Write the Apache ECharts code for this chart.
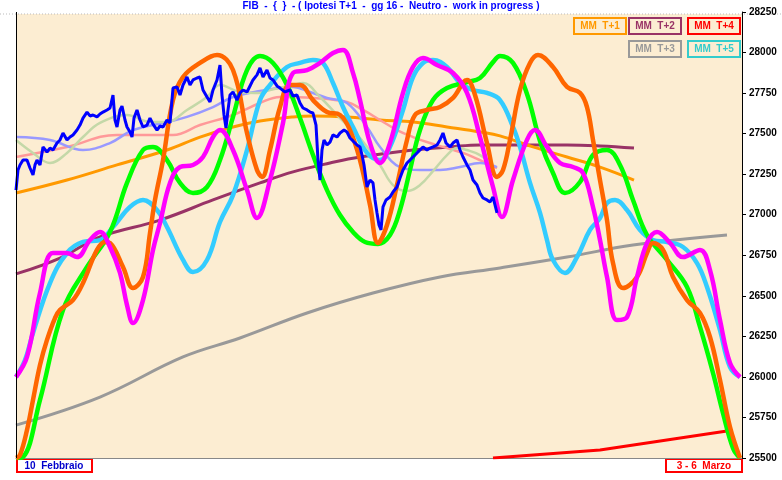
<!DOCTYPE html>
<html><head><meta charset="utf-8">
<script src="https://cdn.jsdelivr.net/npm/echarts@6/dist/echarts.min.js"></script>
<style>html,body{margin:0;padding:0;background:#fff}#c{width:782px;height:480px}</style>
</head><body><div id="c"></div>
<script>
const title = 'FIB  -  {  }  - ( Ipotesi T+1  -  gg 16 -  Neutro -  work in progress )';
const startLabel = '10  Febbraio';
const endLabel = '3 - 6  Marzo';
const yMin = 25500, yMax = 28250, yStep = 250;
const xMax = 726;

// price (blue)
const price = [[0,27152],[2,27276],[4,27307],[7,27337],[11,27337],[14,27288],[17,27245],[19,27307],[21,27337],[24,27307],[27,27418],[31,27387],[34,27411],[37,27399],[41,27442],[44,27461],[47,27504],[51,27461],[54,27479],[57,27492],[61,27522],[64,27553],[67,27596],[71,27633],[74,27609],[77,27615],[81,27603],[84,27621],[87,27633],[91,27646],[94,27658],[97,27738],[99,27584],[101,27541],[104,27646],[106,27670],[109,27584],[111,27541],[114,27510],[116,27479],[118,27596],[121,27646],[124,27584],[127,27541],[131,27553],[134,27596],[137,27559],[141,27522],[144,27547],[147,27541],[151,27584],[154,27566],[157,27781],[161,27788],[164,27738],[167,27800],[171,27849],[174,27800],[177,27831],[181,27843],[184,27849],[187,27769],[191,27726],[194,27695],[197,27769],[201,27831],[204,27923],[206,27738],[208,27615],[210,27535],[212,27646],[214,27738],[217,27757],[221,27707],[224,27751],[227,27769],[231,27757],[234,27794],[237,27831],[241,27862],[244,27905],[247,27849],[251,27892],[254,27843],[257,27831],[261,27794],[264,27781],[269,27757],[274,27769],[277,27732],[281,27738],[284,27689],[287,27658],[291,27646],[294,27633],[297,27627],[300,27553],[302,27337],[304,27214],[306,27399],[308,27461],[311,27430],[314,27448],[317,27492],[321,27479],[324,27504],[328,27522],[331,27510],[334,27473],[337,27455],[341,27430],[344,27418],[346,27368],[348,27307],[351,27171],[354,27214],[357,27196],[359,27091],[361,27011],[363,26937],[365,26906],[367,27048],[370,27091],[374,27109],[377,27140],[381,27171],[384,27226],[387,27276],[391,27319],[394,27337],[397,27356],[401,27381],[404,27399],[407,27418],[411,27399],[414,27411],[417,27418],[421,27430],[424,27461],[427,27504],[430,27442],[434,27418],[437,27442],[441,27461],[444,27399],[447,27356],[451,27307],[454,27276],[457,27214],[461,27183],[464,27134],[467,27103],[471,27091],[474,27078],[477,27109],[479,27060],[481,27011]];

// moving averages
const maLightGreen = [[0,27461],[17,27381],[34,27319],[51,27381],[67,27479],[84,27566],[111,27615],[134,27572],[151,27572],[171,27646],[191,27726],[204,27800],[224,27757],[244,27751],[254,27769],[277,27800],[287,27812],[304,27726],[324,27596],[344,27473],[364,27307],[377,27183],[391,27146],[404,27183],[417,27269],[431,27368],[441,27411],[451,27399],[464,27368],[477,27307]];
const maLavender = [[0,27479],[34,27461],[67,27399],[94,27442],[117,27522],[151,27572],[171,27603],[197,27664],[217,27726],[244,27763],[277,27788],[294,27757],[311,27720],[331,27689],[351,27541],[364,27418],[384,27294],[404,27276],[424,27276],[444,27294],[464,27319],[481,27294]];
const maPink = [[0,27356],[51,27418],[101,27492],[157,27492],[184,27553],[217,27615],[244,27689],[264,27726],[297,27720],[331,27695],[347,27646],[364,27584],[381,27522],[397,27479],[414,27442],[431,27411],[447,27381],[464,27337],[481,27288]];
const mmT1 = [[0,27134],[51,27214],[101,27307],[151,27399],[184,27479],[217,27541],[244,27578],[277,27603],[297,27609],[331,27603],[364,27584],[397,27572],[431,27541],[464,27510],[484,27486],[517,27418],[551,27356],[584,27294],[618,27214]];
const mmT2 = [[0,26635],[44,26733],[84,26863],[144,26967],[197,27091],[244,27196],[277,27264],[314,27319],[344,27356],[397,27399],[434,27418],[464,27430],[504,27430],[551,27430],[584,27424],[618,27411]];
const mmT3 = [[0,25703],[84,25876],[167,26123],[224,26240],[291,26394],[357,26517],[424,26616],[484,26672],[551,26739],[617,26813],[711,26875]];
const mmT4 = [[477,25500],[584,25549],[711,25666]];

// projection curves
const projGreen = [[0,25500],[7,25506],[24,25858],[47,26413],[71,26678],[94,26893],[111,27196],[127,27399],[137,27418],[151,27337],[164,27196],[177,27134],[191,27171],[204,27337],[217,27603],[231,27892],[244,27979],[257,27936],[271,27800],[284,27596],[297,27368],[311,27152],[324,26998],[337,26893],[349,26832],[362,26820],[374,26875],[384,27029],[394,27276],[404,27522],[417,27707],[431,27781],[451,27818],[464,27843],[477,27941],[484,27979],[497,27936],[511,27745],[524,27455],[537,27257],[549,27134],[564,27202],[577,27368],[591,27399],[604,27307],[617,27091],[631,26875],[651,26721],[671,26554],[684,26308],[697,26024],[707,25777],[717,25561],[724,25500]];
const projOrange = [[0,25500],[4,25518],[11,25672],[17,25858],[24,26074],[31,26228],[39,26363],[44,26413],[57,26474],[67,26579],[81,26783],[89,26832],[94,26826],[107,26678],[117,26548],[127,26616],[134,26887],[139,27091],[147,27337],[157,27707],[167,27849],[184,27936],[201,27985],[217,27892],[231,27504],[241,27276],[246,27233],[254,27399],[264,27664],[274,27800],[284,27800],[297,27707],[311,27633],[324,27615],[334,27522],[344,27337],[354,27060],[362,26826],[371,26937],[381,27183],[391,27461],[399,27615],[411,27646],[424,27664],[437,27720],[451,27831],[459,27738],[471,27442],[481,27233],[487,27276],[494,27461],[504,27769],[514,27936],[522,27985],[537,27911],[551,27788],[564,27751],[571,27664],[577,27461],[584,27214],[591,26967],[597,26702],[607,26548],[621,26616],[631,26764],[637,26826],[647,26783],[657,26616],[671,26474],[684,26394],[694,26246],[704,25981],[714,25691],[724,25500]];
const projMagenta = [[0,25999],[11,26123],[24,26517],[37,26764],[51,26764],[61,26739],[74,26844],[84,26893],[94,26801],[104,26641],[111,26443],[117,26332],[127,26474],[137,26783],[144,26949],[154,27196],[164,27294],[177,27307],[187,27356],[197,27479],[204,27522],[217,27399],[231,27152],[241,26980],[254,27214],[267,27566],[277,27874],[291,27892],[304,27936],[317,27997],[327,28016],[337,27874],[344,27707],[354,27442],[364,27319],[374,27442],[387,27751],[397,27911],[407,27966],[421,27923],[437,27874],[451,27751],[464,27479],[477,27171],[486,26986],[497,27214],[511,27461],[519,27522],[531,27418],[544,27319],[557,27294],[567,27257],[577,27048],[584,26844],[591,26616],[601,26351],[611,26369],[621,26616],[631,26826],[641,26893],[654,26826],[667,26739],[684,26783],[694,26659],[704,26351],[714,26086],[724,25999]];
const projCyan = [[0,25999],[9,26104],[17,26271],[34,26579],[51,26764],[67,26832],[84,26844],[97,26924],[114,27048],[127,27091],[141,27029],[151,26924],[167,26721],[177,26647],[191,26721],[204,26955],[217,27121],[231,27399],[244,27707],[254,27800],[271,27911],[284,27936],[297,27954],[307,27936],[317,27812],[327,27664],[337,27541],[351,27381],[364,27337],[374,27418],[387,27646],[397,27849],[407,27936],[417,27954],[431,27911],[444,27812],[457,27769],[471,27751],[484,27707],[497,27541],[504,27418],[514,27196],[524,27011],[531,26844],[537,26721],[549,26641],[561,26739],[574,26906],[584,26980],[591,27072],[599,27091],[611,27029],[624,26906],[637,26844],[651,26832],[667,26801],[681,26702],[691,26554],[704,26289],[714,26061],[724,25999]];

const legendItems = [
  {text:'MM  T+1', color:'#FF9900', row:0, col:0},
  {text:'MM  T+2', color:'#993366', row:0, col:1},
  {text:'MM  T+4', color:'#FF0000', row:0, col:2},
  {text:'MM  T+3', color:'#999999', row:1, col:1},
  {text:'MM  T+5', color:'#33CCCC', row:1, col:2}
];

const chart = echarts.init(document.getElementById('c'));
const GL = 16, GR = 40, GT = 12, GB = 22;
function line(name, data, color, width, smooth, z) {
  return {name, type:'line', data, showSymbol:false, smooth: smooth, z: z,
    lineStyle:{color, width}, itemStyle:{color}, clip:true, animation:false};
}
const graphics = [
  {type:'rect', left:GL, top:14, shape:{width:782-GL-GR, height:480-GB-14}, style:{fill:'#FCEDD2'}, z:-10, silent:true},
  {type:'line', shape:{x1:0, y1:14, x2:782, y2:14}, style:{stroke:'#bbbbbb', lineDash:[1,2], lineWidth:1}, z:-5},
  {type:'line', shape:{x1:GL+0.5, y1:12, x2:GL+0.5, y2:458}, style:{stroke:'#000000', lineWidth:1}, z:10},
  {type:'text', left:'center', top:1, style:{text:title, fill:'#0000FF', font:'bold 10px Arial'}},
  {type:'rect', shape:{x:17, y:459, width:75, height:13}, style:{fill:'#ffffff', stroke:'#FF0000', lineWidth:2}},
  {type:'text', x:54, y:466, style:{text:startLabel, fill:'#0000CC', font:'bold 10px Arial', align:'center', verticalAlign:'middle'}},
  {type:'rect', shape:{x:666, y:459, width:76, height:13}, style:{fill:'#ffffff', stroke:'#FF0000', lineWidth:2}},
  {type:'text', x:704, y:466, style:{text:endLabel, fill:'#FF0000', font:'bold 10px Arial', align:'center', verticalAlign:'middle'}}
];
const colX = [574, 629, 688], rowY = [18, 41];
legendItems.forEach(it => {
  const x = colX[it.col], y = rowY[it.row];
  graphics.push({type:'rect', shape:{x, y, width:52, height:16}, style:{fill:'#FCEDD2', stroke:it.color, lineWidth:2}, z:50});
  graphics.push({type:'text', x:x+26, y:y+8, style:{text:it.text, fill:it.color, font:'bold 10px Arial', align:'center', verticalAlign:'middle'}, z:51});
});

chart.setOption({
  animation:false,
  backgroundColor:'#ffffff',
  grid:{left:GL, right:GR, top:GT, bottom:GB, containLabel:false},
  xAxis:{type:'value', min:0, max:xMax, axisLine:{show:true, onZero:false, lineStyle:{color:'#888888', width:1}}, axisTick:{show:false}, axisLabel:{show:false}, splitLine:{show:false}},
  yAxis:{type:'value', position:'right', min:yMin, max:yMax, interval:yStep,
     axisLine:{show:true, onZero:false, lineStyle:{color:'#000000', width:1}},
     axisTick:{show:true, inside:false, length:4, lineStyle:{color:'#000'}},
     axisLabel:{show:true, color:'#000', fontWeight:'bold', fontSize:10, fontFamily:'Arial', margin:7, formatter: v => String(v)},
     splitLine:{show:false}},
  graphic: graphics,
  series:[
    line('T+4', mmT4, '#FF0000', 3, false, 2),
    line('T+3', mmT3, '#999999', 3, 0.4, 2),
    line('T+2', mmT2, '#993366', 3, 0.4, 2),
    line('T+1', mmT1, '#FF9900', 3, 0.4, 2),
    line('pink', maPink, '#FF9999', 2.5, 0.4, 2),
    line('lavender', maLavender, '#9999FF', 2.5, 0.4, 2),
    line('lightgreen', maLightGreen, '#C4D8A8', 2.5, 0.4, 2),
    line('cyan', projCyan, '#33CCFF', 4.5, 0.4, 3),
    line('green', projGreen, '#00FF00', 4.5, 0.4, 3),
    line('orange', projOrange, '#FF6600', 4.5, 0.4, 3),
    line('magenta', projMagenta, '#FF00FF', 4.5, 0.4, 3),
    line('price', price, '#0000FF', 3, false, 4)
  ]
});
</script></body></html>
